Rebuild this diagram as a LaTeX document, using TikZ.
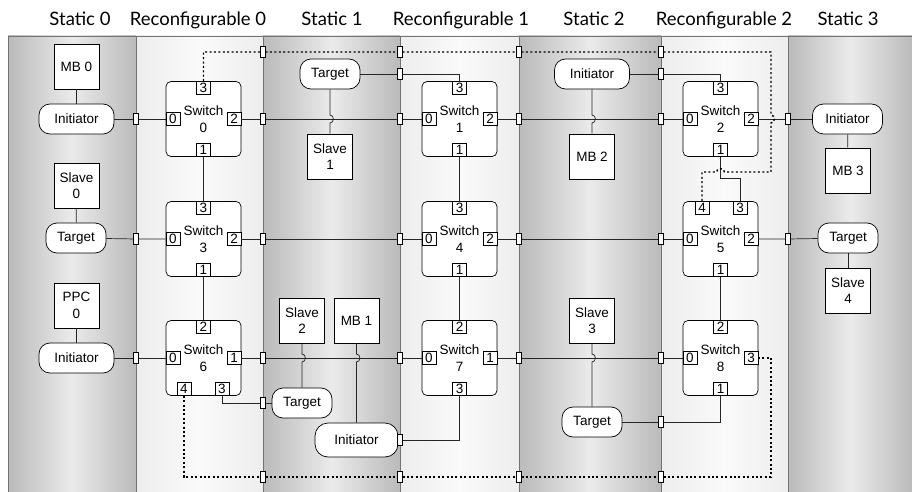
\documentclass[tikz,border=0pt]{standalone}
\usepackage{fontspec}
\setmainfont{Liberation Sans}
\newfontfamily\headfont{Lato}
\usetikzlibrary{positioning}

\begin{document}
\begin{tikzpicture}[x=1pt,y=-1pt,
  staticbg/.style={draw=black!55, line width=.6pt, left color=black!27, right color=black!27, middle color=black!8},
  reconfbg/.style={draw=black!55, line width=.6pt, left color=black!7, right color=black!7, middle color=black!2},
  head/.style={font=\headfont\fontsize{18.5}{20}\selectfont, anchor=base},
  box/.style={draw, fill=white, line width=.7pt, minimum size=45pt, inner sep=0pt, align=center, font=\fontsize{13.5}{16.5}\selectfont},
  pill/.style={draw, fill=white, line width=.7pt, rounded corners=11pt, minimum height=30pt, minimum width=75pt, inner sep=0pt, font=\fontsize{13.5}{16.5}\selectfont},
  switch/.style={draw, fill=white, line width=.7pt, rounded corners=5pt, minimum size=75pt, inner sep=0pt, align=center, font=\fontsize{13.5}{17}\selectfont},
  port/.style={draw, fill=white, line width=.6pt, minimum width=14pt, minimum height=13pt, inner sep=0pt, font=\fontsize{13.5}{14}\selectfont},
  bm/.style={draw, fill=white, line width=.6pt, minimum width=4.5pt, minimum height=11pt, inner sep=0pt},
  wire/.style={draw=black!85, line width=.7pt},
  dotline/.style={draw=black, line width=1.4pt, dash pattern=on 2pt off 2.4pt}
]
\useasboundingbox (0,0) rectangle (912,492);

% Panels
\path[staticbg] (8,36) rectangle (136,492);
\path[reconfbg] (136,36) rectangle (263,492);
\path[staticbg] (263,36) rectangle (400,492);
\path[reconfbg] (400,36) rectangle (519,492);
\path[staticbg] (519,36) rectangle (661,492);
\path[reconfbg] (661,36) rectangle (788,492);
\path[staticbg] (788,36) rectangle (913,492);

\path
(80,26)   node[head] (h0) {Static 0}
(198,26)  node[head] (h1) {Reconfigurable 0}
(332,26)  node[head] (h2) {Static 1}
(461,26)  node[head] (h3) {Reconfigurable 1}
(594,26)  node[head] (h4) {Static 2}
(724,26)  node[head] (h5) {Reconfigurable 2}
(848,26)  node[head] (h6) {Static 3}
;

% Switches
\path
(203.5,119)  node[switch] (sw0) {Switch\\0}
(459.5,119)  node[switch] (sw1) {Switch\\1}
(720.5,119)  node[switch] (sw2) {Switch\\2}
(203.5,239)  node[switch] (sw3) {Switch\\3}
(459.5,239)  node[switch] (sw4) {Switch\\4}
(720.5,239)  node[switch] (sw5) {Switch\\5}
(203.5,358)  node[switch] (sw6) {Switch\\6}
(459.5,358)  node[switch] (sw7) {Switch\\7}
(720.5,358)  node[switch] (sw8) {Switch\\8}
;

% Ports
\path
(sw0.north) node[port,anchor=north] (s0p3) {3}
(sw0.west)  node[port,anchor=west]  (s0p0) {0}
(sw0.east)  node[port,anchor=east]  (s0p2) {2}
(sw0.south) node[port,anchor=south] (s0p1) {1}
(sw1.north) node[port,anchor=north] (s1p3) {3}
(sw1.west)  node[port,anchor=west]  (s1p0) {0}
(sw1.east)  node[port,anchor=east]  (s1p2) {2}
(sw1.south) node[port,anchor=south] (s1p1) {1}
(sw2.north) node[port,anchor=north] (s2p3) {3}
(sw2.west)  node[port,anchor=west]  (s2p0) {0}
(sw2.east)  node[port,anchor=east]  (s2p2) {2}
(sw2.south) node[port,anchor=south] (s2p1) {1}
(sw3.north) node[port,anchor=north] (s3p3) {3}
(sw3.west)  node[port,anchor=west]  (s3p0) {0}
(sw3.east)  node[port,anchor=east]  (s3p2) {2}
(sw3.south) node[port,anchor=south] (s3p1) {1}
(sw4.north) node[port,anchor=north] (s4p3) {3}
(sw4.west)  node[port,anchor=west]  (s4p0) {0}
(sw4.east)  node[port,anchor=east]  (s4p2) {2}
(sw4.south) node[port,anchor=south] (s4p1) {1}
(sw5.north) node[port,anchor=north,xshift=-18.5pt] (s5p4) {4}
(sw5.north) node[port,anchor=north,xshift=19.5pt]  (s5p3) {3}
(sw5.west)  node[port,anchor=west]  (s5p0) {0}
(sw5.east)  node[port,anchor=east]  (s5p2) {2}
(sw5.south) node[port,anchor=south] (s5p1) {1}
(sw6.north) node[port,anchor=north] (s6p2) {2}
(sw6.west)  node[port,anchor=west]  (s6p0) {0}
(sw6.east)  node[port,anchor=east]  (s6p1) {1}
(sw6.south) node[port,anchor=south,xshift=-19.5pt] (s6p4) {4}
(sw6.south) node[port,anchor=south,xshift=18.5pt]  (s6p3) {3}
(sw7.north) node[port,anchor=north] (s7p2) {2}
(sw7.west)  node[port,anchor=west]  (s7p0) {0}
(sw7.east)  node[port,anchor=east]  (s7p1) {1}
(sw7.south) node[port,anchor=south] (s7p3) {3}
(sw8.north) node[port,anchor=north] (s8p2) {2}
(sw8.west)  node[port,anchor=west]  (s8p0) {0}
(sw8.east)  node[port,anchor=east]  (s8p3) {3}
(sw8.south) node[port,anchor=south] (s8p1) {1}
;

% Static 0
\path
(76.5,66.5)   node[box]  (mb0)  {MB 0}
(76.5,119)    node[pill] (ini0) {Initiator}
(76.5,185.5)  node[box]  (sl0)  {Slave\\0}
(76,238)      node[pill,minimum width=60pt] (tg0) {Target}
(76.5,305.5)  node[box]  (ppc0) {PPC\\0}
(76.5,358)    node[pill] (ini1) {Initiator}
;

% Static 1
\path
(330,74)      node[pill,minimum width=60pt] (tg1) {Target}
(330,156.5)   node[box]  (sl1)  {Slave\\1}
(302,320.5)   node[box]  (sl2)  {Slave\\2}
(356.5,320.5) node[box]  (mb1)  {MB 1}
(302,403)     node[pill,minimum width=60pt] (tg2) {Target}
(356.5,440)   node[pill,minimum width=83pt,minimum height=34pt,rounded corners=13pt] (ini2) {Initiator}
;

% Static 2
\path
(592,74)      node[pill] (ini3) {Initiator}
(592,156.5)   node[box]  (mb2)  {MB 2}
(592,320.5)   node[box]  (sl3)  {Slave\\3}
(592,422)     node[pill,minimum width=60pt] (tg3) {Target}
;

% Static 3
\path
(847.5,119)   node[pill,minimum width=70pt] (ini4) {Initiator}
(848,170.5)   node[box]  (mb3)  {MB 3}
(848,238)     node[pill,minimum width=60pt] (tg4) {Target}
(848,290.5)   node[box]  (sl4)  {Slave\\4}
;

% Bus macros
\path
(136,119) node[bm] (bm11) {} (263,119) node[bm] (bm12) {} (400,119) node[bm] (bm13) {}
(519,119) node[bm] (bm14) {} (661,119) node[bm] (bm15) {} (788,119) node[bm] (bm16) {}
(136,239) node[bm] (bm21) {} (263,239) node[bm] (bm22) {} (400,239) node[bm] (bm23) {}
(519,239) node[bm] (bm24) {} (661,239) node[bm] (bm25) {} (788,239) node[bm] (bm26) {}
(136,358) node[bm] (bm31) {} (263,358) node[bm] (bm32) {} (400,358) node[bm] (bm33) {}
(519,358) node[bm] (bm34) {} (661,358) node[bm] (bm35) {}
(400,74)  node[bm] (bt1) {}  (661,74)  node[bm] (bt2) {}
(263,403) node[bm] (bb1) {}  (400,440) node[bm] (bb2) {}  (661,422) node[bm] (bb3) {}
(263,52)  node[bm] (dt1) {}  (400,52)  node[bm] (dt2) {}  (519,52)  node[bm] (dt3) {}  (661,52)  node[bm] (dt4) {}
(263,477) node[bm] (db1) {}  (400,477) node[bm] (db2) {}  (519,477) node[bm] (db3) {}  (661,477) node[bm] (db4) {}
;

% Row buses
\draw[wire] (ini0) -- (bm11) -- (s0p0);
\draw[wire] (s0p2) -- (bm12) -- (bm13) -- (s1p0);
\draw[wire] (s1p2) -- (bm14) -- (bm15) -- (s2p0);
\draw[wire] (s2p2) -- (bm16) -- (ini4);
\draw[wire] (tg0) -- (bm21) -- (s3p0);
\draw[wire] (s3p2) -- (bm22) -- (bm23) -- (s4p0);
\draw[wire] (s4p2) -- (bm24) -- (bm25) -- (s5p0);
\draw[wire] (s5p2) -- (bm26) -- (tg4);
\draw[wire] (ini1) -- (bm31) -- (s6p0);
\draw[wire] (s6p1) -- (bm32) -- (bm33) -- (s7p0);
\draw[wire] (s7p1) -- (bm34) -- (bm35) -- (s8p0);

% Switch links
\draw[wire] (s0p1) -- (s3p3);
\draw[wire] (s3p1) -- (s6p2);
\draw[wire] (s1p1) -- (s4p3);
\draw[wire] (s4p1) -- (s7p2);
\draw[wire] (s5p1) -- (s8p2);
\draw[wire] (s2p1) -- (720.5,178) -| (s5p3);

% Masters and slaves
\draw[wire] (mb0) -- (ini0);
\draw[wire] (sl0) -- (tg0);
\draw[wire] (ppc0) -- (ini1);
\draw[wire] (ini4) -- (mb3);
\draw[wire] (tg4) -- (sl4);
\draw[wire] (tg1) -- (bt1) -| (s1p3);
\draw[wire] (ini3) -- (bt2) -| (s2p3);
\draw[wire] (s6p3) |- (bb1) -- (tg2);
\draw[wire] (bb2) -| (s7p3);
\draw[wire] (tg3) -- (bb3) -| (s8p1);
\draw[wire] (tg1) -- (330,115) .. controls (334.5,115) and (334.5,123) .. (330,123) -- (sl1);
\draw[wire] (ini3) -- (592,115) .. controls (596.5,115) and (596.5,123) .. (592,123) -- (mb2);
\draw[wire] (sl2) -- (302,354) .. controls (306.5,354) and (306.5,362) .. (302,362) -- (tg2);
\draw[wire] (mb1) -- (356.5,354) .. controls (361,354) and (361,362) .. (356.5,362) -- (ini2);
\draw[wire] (sl3) -- (592,354) .. controls (596.5,354) and (596.5,362) .. (592,362) -- (tg3);

% Dotted loops
\draw[dotline] (s0p3) |- (dt1) -- (dt2) -- (dt3) -- (dt4) -- (771,52) -- (771,115)
  .. controls (775.5,115) and (775.5,123) .. (771,123) -- (771,172) -- (724.5,172)
  .. controls (724.5,167.5) and (716.5,167.5) .. (716.5,172) -- (702,172) -- (s5p4);
\draw[dotline] (s6p4) |- (db1) -- (db2) -- (db3) -- (db4) -- (771,477) |- (s8p3);

\end{tikzpicture}
\end{document}
